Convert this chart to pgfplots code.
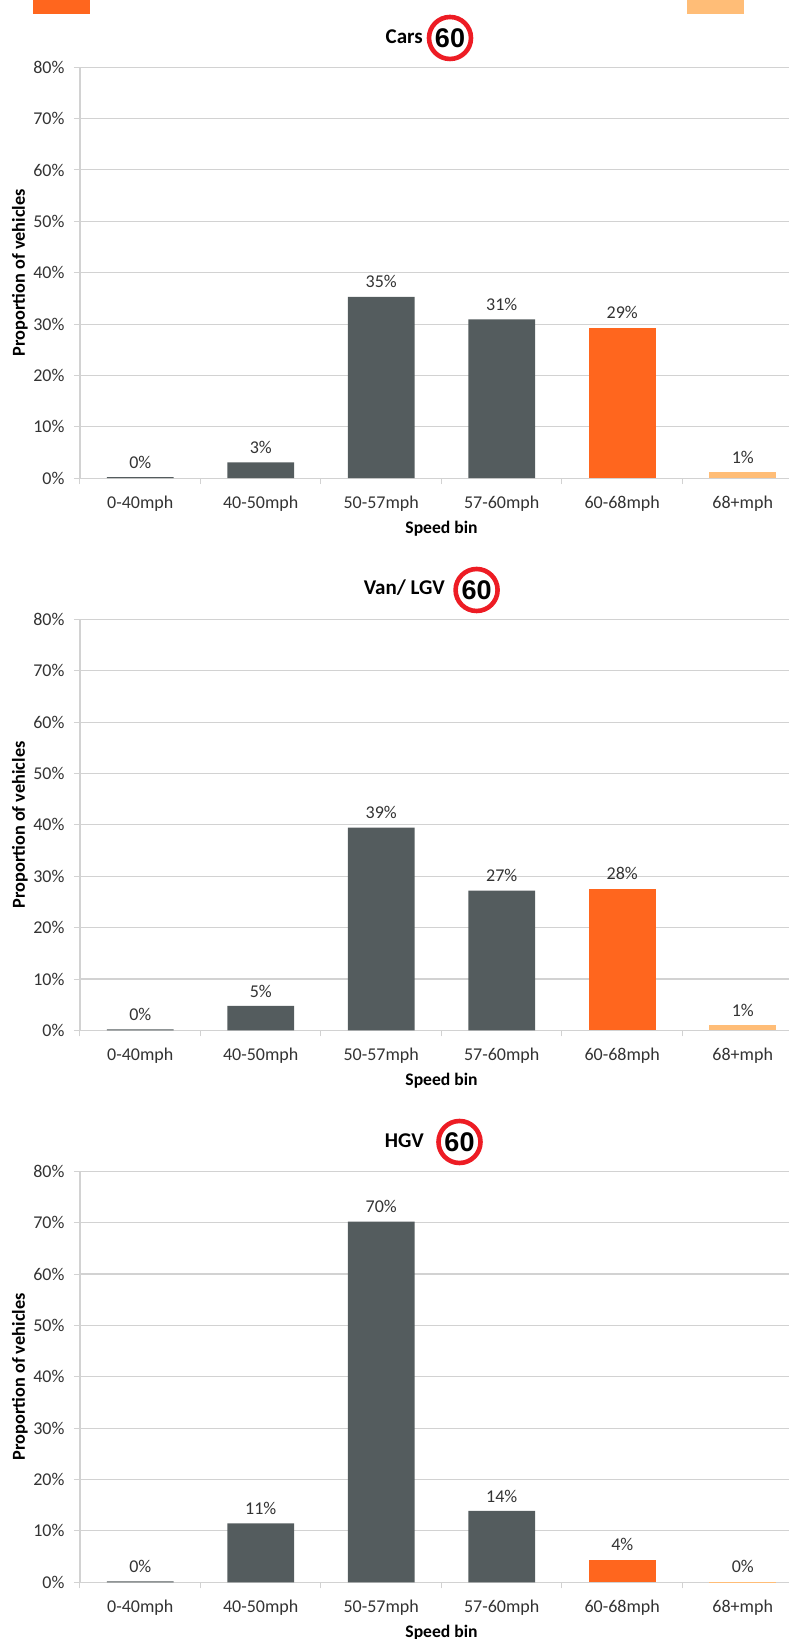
\documentclass[border=0pt]{standalone}
\usepackage{fontspec}
\setmainfont{Carlito}
\newfontfamily\signfont{Liberation Sans}
\usepackage{pgfplots}
\usepackage{pgfplotstable}
\pgfplotsset{compat=1.18}

\definecolor{bargrey}{HTML}{545C5E}
\definecolor{barorange}{HTML}{FF661E}
\definecolor{barlight}{HTML}{FFBD77}
\definecolor{gridgrey}{HTML}{D2D2D2}
\definecolor{txtgrey}{HTML}{333333}
\definecolor{signred}{HTML}{ED1C24}

% one table per colour in each panel
\pgfplotstableread{
x y
0 0.2
1 3.06
2 35.3
3 30.9
}\carsgrey
\pgfplotstableread{
x y
4 29.3
}\carsorange
\pgfplotstableread{
x y
5 1.18
}\carslight
\pgfplotstableread{
x y
0 0.2
1 4.76
2 39.46
3 27.2
}\vangrey
\pgfplotstableread{
x y
4 27.6
}\vanorange
\pgfplotstableread{
x y
5 1.07
}\vanlight
\pgfplotstableread{
x y
0 0.2
1 11.45
2 70.2
3 13.9
}\hgvgrey
\pgfplotstableread{
x y
4 4.4
}\hgvorange
\pgfplotstableread{
x y
5 0.1
}\hgvlight

\newcommand{\txt}{\fontsize{18}{20}\selectfont}
\newcommand{\boldlab}{\fontsize{17.6}{20}\selectfont\bfseries}
\newcommand{\boldy}{\fontsize{18.3}{20}\selectfont\bfseries}
\newcommand{\boldtitle}{\fontsize{21}{22}\selectfont\bfseries}

\pgfplotsset{
  panel/.style={
    anchor=south west,
    scale only axis,
    width=723pt,
    height=411pt,
    xmin=-0.5, xmax=5.5,
    ymin=0, ymax=80,
    ybar,
    bar shift=0pt,
    bar width=66.6pt,
    clip=false,
    axis lines*=left,
    axis line style={draw=gridgrey,line width=1.1pt,-},
    /pgf/number format/assume math mode=true,
    /pgf/number format/fixed,
    ytick={0,10,...,80},
    yticklabel={\pgfmathprintnumber{\tick}\%},
    yticklabel style={font=\txt,text=txtgrey,xshift=-6pt},
    ymajorgrids,
    grid style={draw=gridgrey,line width=1.1pt},
    tick align=outside,
    major tick length=6pt,
    minor tick length=6pt,
    tick style={draw=gridgrey,line width=1pt},
    xtick={0,...,5},
    xticklabels={0-40mph,40-50mph,50-57mph,57-60mph,60-68mph,68+mph},
    x tick style={draw=none},
    minor xtick={-0.5,0.5,...,5.5},
    minor x tick style={draw=gridgrey,line width=1pt},
    xticklabel style={font=\txt,text=txtgrey,yshift=-8.5pt},
    xlabel={Speed bin},
    xlabel style={font=\boldlab,at={(axis description cs:0.5,0)},anchor=center,yshift=-50.3pt},
    ylabel={Proportion of vehicles},
    ylabel style={font=\boldy,at={(axis description cs:0,0.5)},anchor=center,yshift=60pt},
    nodes near coords={\pgfmathprintnumber[fixed,precision=0]{\pgfplotspointmeta}\%},
    nodes near coords style={font=\txt,text=txtgrey,anchor=south,inner sep=0pt,yshift=8.5pt},
  },
  bargreystyle/.style={fill=bargrey,draw=none},
  barorangestyle/.style={fill=barorange,draw=none},
  barlightstyle/.style={fill=barlight,draw=none},
}

% speed limit sign
\newcommand{\sign}[2]{%
  \draw[draw=signred,line width=4.6pt,fill=white] (#1pt,#2pt) circle (21pt);
  \node[font=\signfont\fontsize{27}{27}\selectfont\bfseries,text=black] at (#1pt,#2pt) {60};
}

\begin{document}
\begin{tikzpicture}[x=1pt,y=1pt]
\path[use as bounding box] (0,0) rectangle (789,1639);
\clip (0,0) rectangle (789,1639);

% cut off legend keys at the top edge
\fill[barorange] (33,1625) rectangle (90,1639);
\fill[barlight] (687,1625) rectangle (744,1639);

% cars
\begin{axis}[panel,at={(80pt,1160.8pt)}]
\addplot[bargreystyle] table {\carsgrey};
\addplot[barorangestyle] table {\carsorange};
\addplot[barlightstyle] table {\carslight};
\end{axis}
\node[font=\boldtitle,anchor=east,inner sep=0pt] at (423,1602) {Cars};
\sign{450}{1601}

% van
\begin{axis}[panel,at={(80pt,608.6pt)}]
\addplot[bargreystyle] table {\vangrey};
\addplot[barorangestyle] table {\vanorange};
\addplot[barlightstyle] table {\vanlight};
\end{axis}
\node[font=\boldtitle,anchor=east,inner sep=0pt] at (445,1051) {Van/ LGV};
\sign{476.6}{1049}

% hgv
\begin{axis}[panel,at={(80pt,56.7pt)}]
\addplot[bargreystyle] table {\hgvgrey};
\addplot[barorangestyle] table {\hgvorange};
\addplot[barlightstyle] table {\hgvlight};
\end{axis}
\node[font=\boldtitle,anchor=east,inner sep=0pt] at (424,498) {HGV};
\sign{459.5}{497}
\end{tikzpicture}
\end{document}
